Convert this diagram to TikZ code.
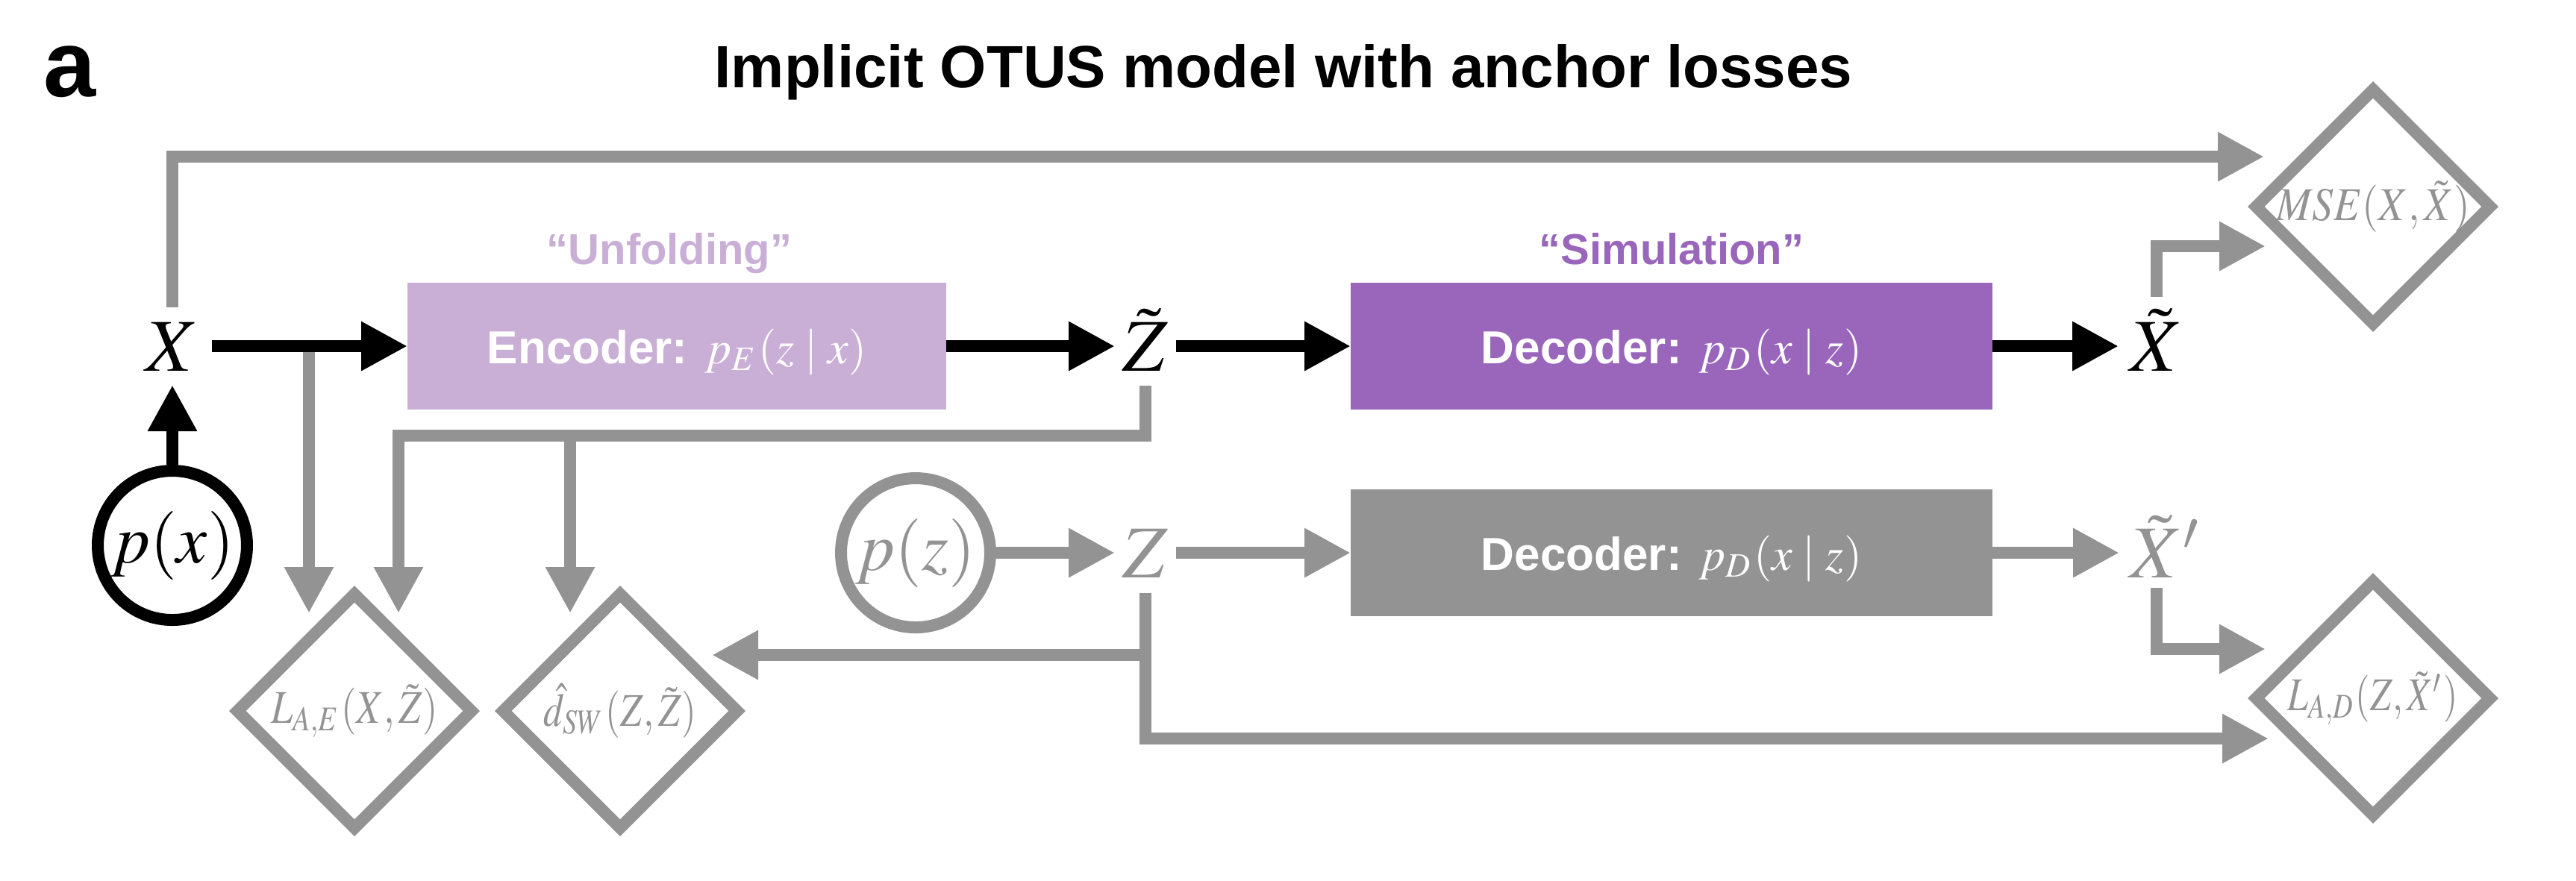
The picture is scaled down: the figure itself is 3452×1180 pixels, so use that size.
\documentclass[tikz,border=0pt]{standalone}
\usepackage{mathptmx}
\usepackage[no-math]{fontspec}
\setmainfont{Liberation Sans}
\usetikzlibrary{arrows.meta,shapes.geometric,calc}
\definecolor{gcol}{RGB}{147,147,147}
\definecolor{lpur}{RGB}{201,175,214}
\definecolor{dpur}{RGB}{153,102,187}
\newcommand{\dtext}[2]{\makebox[0pt]{\scalebox{#1}[1]{#2}}}
\begin{document}
\begin{tikzpicture}[x=0.1pt,y=-0.1pt,
  garrow/.style={draw=gcol, line width=1.6pt, -{Triangle[length=6.2pt,width=6.2pt]}},
  barrow/.style={draw=black, line width=1.6pt, -{Triangle[length=6.2pt,width=6.2pt]}},
  var/.style={inner sep=0pt, outer sep=0pt, text height=6.6pt, text depth=0pt, font=\fontsize{10pt}{12pt}\selectfont},
  dmd/.style={diamond, draw=gcol, line width=1.6pt, inner sep=0pt, minimum width=32pt, minimum height=32pt, aspect=1, text=gcol, font=\fontsize{6.3pt}{7pt}\selectfont},
  boxnode/.style={rectangle, inner sep=0pt, outer sep=0pt, minimum height=17pt, text=white, text height=4.6pt, text depth=0pt, font=\fontsize{6.2pt}{7pt}\selectfont\bfseries},
  circnode/.style={circle, line width=1.6pt, minimum size=20pt, inner sep=0pt, font=\fontsize{9.2pt}{11pt}\selectfont},
  lbl/.style={inner sep=0pt, anchor=base, font=\fontsize{5.8pt}{7pt}\selectfont\bfseries}
]
\useasboundingbox (0,0) rectangle (3452,1180);

% titles
\node[inner sep=0pt, anchor=base, font=\fontsize{12.6pt}{14pt}\selectfont\bfseries] (lab) at (94,129) {a};
\node[inner sep=0pt, anchor=base, font=\fontsize{8pt}{10pt}\selectfont\bfseries] (title) at (1720,117) {Implicit OTUS model with anchor losses};
\node[lbl, text=lpur] (unf) at (897,354) {“Unfolding”};
\node[lbl, text=dpur] (sim) at (2240,354) {“Simulation”};

% variable nodes
\node[var, minimum width=10.6pt, minimum height=10.4pt] (X) at (231,464) {$X$};
\node[var, minimum width=8.2pt, minimum height=10.6pt] (Zt) at (1535,464) {$\tilde{Z}$};
\node[var, minimum width=10.2pt, minimum height=13.2pt] (Xt) at (2890,464) {$\tilde{X}$};
\node[var, minimum width=8.2pt, minimum height=10.8pt, text=gcol] (Z) at (1535,741) {$Z$};
\node[var, minimum width=10pt, minimum height=9.4pt, text=gcol] (Xtp) at (2890,741) {$\tilde{X}\rlap{$'$}$};

% circles
\node[circnode, draw=black] (px) at (231,731) {$p(x)$};
\node[circnode, draw=gcol, text=gcol] (pz) at (1227,741) {$p(z)$};

% boxes
\node[boxnode, fill=lpur, minimum width=72.2pt] (enc) at (907,464) {Encoder: $p_E(z \mid x)$};
\node[boxnode, fill=dpur, minimum width=86pt] (dec) at (2240,464) {Decoder: $p_D(x \mid z)$};
\node[boxnode, fill=gcol, minimum width=86pt] (dec2) at (2240,741) {Decoder: $p_D(x \mid z)$};

% diamonds
\node[dmd] (mse) at (3180,277) {\dtext{0.89}{$MSE(X,\tilde{X})$}};
\node[dmd] (lae) at (475,953) {\dtext{0.83}{$L_{A,E}(X,\tilde{Z})$}};
\node[dmd] (dsw) at (831,953) {\dtext{0.81}{$\hat{d}_{SW}(Z,\tilde{Z})$}};
\node[dmd] (lad) at (3180,936) {\dtext{0.79}{$L_{A,D}(Z,\tilde{X}')$}};

% helper coordinates
\coordinate (mse1) at (3034,210);
\coordinate (mse2) at (3036,330);
\coordinate (lad1) at (3036,870);
\coordinate (lad2) at (3040,990);
\coordinate (dswIn) at (954,878);
\coordinate (tiprow) at (0,822);
\coordinate (br1) at (414,464);
\coordinate (c2) at (534,584);
\coordinate (br3) at (764,584);

% gray connectors
\draw[garrow] (X.north) |- (mse1);
\draw[garrow] (Xt.north) |- (mse2);
\draw[garrow] (br1) -- (br1 |- tiprow);
\draw[garrow] (Zt.south) |- (c2) -- (c2 |- tiprow);
\draw[garrow] (br3) -- (br3 |- tiprow);
\draw[garrow] (pz.east) -- (Z.west);
\draw[garrow] (Z.east) -- (dec2.west);
\draw[garrow] (dec2.east) -- (Xtp.west);
\draw[garrow] (Xtp.south) |- (lad1);
\draw[garrow] (Z.south |- dswIn) -- (dswIn);
\draw[garrow] (Z.south) |- (lad2);

% black connectors
\draw[barrow] (px.north) -- (X.south);
\draw[barrow] (X.east) -- (enc.west);
\draw[barrow] (enc.east) -- (Zt.west);
\draw[barrow] (Zt.east) -- (dec.west);
\draw[barrow] (dec.east) -- (Xt.west);
\end{tikzpicture}
\end{document}
